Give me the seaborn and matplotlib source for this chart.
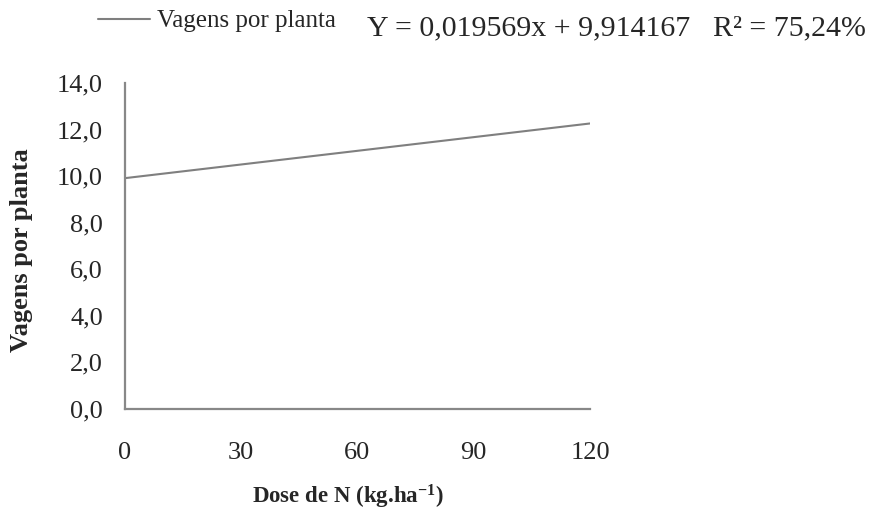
import matplotlib
matplotlib.use("Agg")
import matplotlib.pyplot as plt
import seaborn as sns
import pandas as pd

dose = [0, 30, 60, 90, 120]
vagens = [9.914, 10.501, 11.088, 11.675, 12.262]
yticks = [0, 2, 4, 6, 8, 10, 12, 14]
ytick_labels = ["0,0", "2,0", "4,0", "6,0", "8,0", "10,0", "12,0", "14,0"]
xtick_labels = ["0", "30", "60", "90", "120"]

sns.set_theme(style="white")
plt.rcParams["font.family"] = ["Liberation Serif", "DejaVu Serif"]
plt.rcParams["mathtext.fontset"] = "custom"
plt.rcParams["mathtext.rm"] = "Liberation Serif"
plt.rcParams["mathtext.bf"] = "Liberation Serif:bold"
plt.rcParams["mathtext.it"] = "Liberation Serif:italic"

fig = plt.figure(figsize=(8.7, 5.14), dpi=100)
ax = fig.add_axes([125/870, 1-409/514, 465/870, 326/514])

df = pd.DataFrame({"Dose": dose, "Vagens": vagens})
sns.lineplot(data=df, x="Dose", y="Vagens", ax=ax, color="#7f7f7f", linewidth=1.5,
             label="Vagens por planta", legend=False)

ax.set_xlim(0, 120)
ax.set_ylim(0, 14)
ax.set_xticks(dose)
ax.set_xticklabels(xtick_labels, fontsize=19)
ax.set_yticks(yticks)
ax.set_yticklabels(ytick_labels, fontsize=19)
ax.tick_params(axis="x", length=0, pad=24)
ax.tick_params(axis="y", length=0, pad=16)
for s in ["top", "right"]:
    ax.spines[s].set_visible(False)
for s in ["left", "bottom"]:
    ax.spines[s].set_color("#888888")
    ax.spines[s].set_linewidth(1.6)

ax.set_xlabel("Dose de N (kg.ha$^{\\mathbf{-1}}$)", fontsize=16.5, fontweight="bold")
ax.set_ylabel("Vagens por planta", fontsize=19, fontweight="bold")
ax.xaxis.set_label_coords(0.48, 1 - (497 - 83) / 326)
ax.yaxis.set_label_coords((22 - 125) / 465, 0.488)
ax.xaxis.label.set_va("center")
ax.yaxis.label.set_va("center")

leg = fig.legend(handles=ax.get_lines()[:1], labels=["Vagens por planta"], loc="center left",
                 bbox_to_anchor=(98/870, 1-21/514), frameon=False, fontsize=18,
                 handlelength=2.08, handletextpad=0.28, borderpad=0, borderaxespad=0)

fig.text(367/870, 1-35/514, "Y = 0,019569x + 9,914167", fontsize=21.5, va="baseline", ha="left")
fig.text(713/870, 1-35/514, "R² = 75,24%", fontsize=21.5, va="baseline", ha="left")

fig.savefig("out.png", dpi=100)
